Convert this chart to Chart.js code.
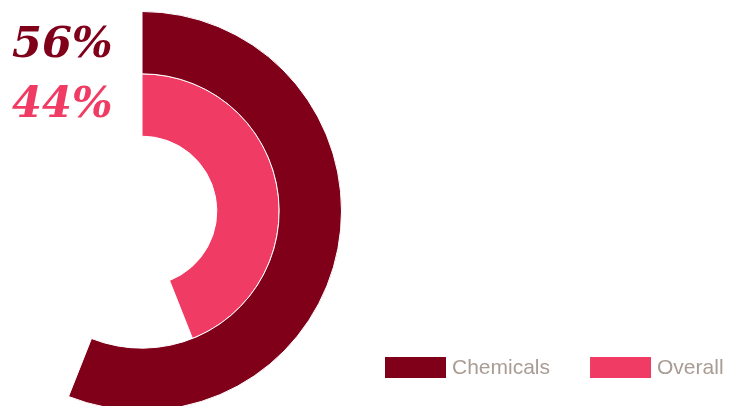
<!DOCTYPE html>
<html>
<head>
<meta charset="utf-8">
<script src="https://cdn.jsdelivr.net/npm/chart.js@4/dist/chart.umd.min.js"></script>
<style>
html, body { margin: 0; padding: 0; background: #fff; overflow: hidden; }
#wrap { position: relative; width: 729px; height: 406px; overflow: hidden; }
/* canvas shifted left so the ring can run off the page edge like the original */
#shareChart { position: absolute; left: -58px; top: 0; }
</style>
</head>
<body>
<div id="wrap"><canvas id="shareChart" width="787" height="416"></canvas></div>
<script>
// data
const labels = ['Chemicals', 'Overall'];
const shares = [56, 44];
const colors = ['#80001a', '#f03c64'];

const shiftX = 58; // canvas offset

// one ring per series, the rest of the ring left empty
const datasets = labels.map((lab, i) => ({
    label: lab,
    data: [shares[i], 100 - shares[i]],
    backgroundColor: [colors[i], 'rgba(0,0,0,0)'],
    borderColor: '#fff',
    borderWidth: [1, 0],
    clip: false
}));

// big numbers top left + legend bottom right
const overlay = {
    id: 'overlay',
    afterDraw(chart) {
        const ctx = chart.ctx;
        ctx.save();
        ctx.font = 'italic bold 43px "DejaVu Serif", serif';
        ctx.textBaseline = 'alphabetic';
        shares.forEach((v, i) => {
            ctx.fillStyle = colors[i];
            ctx.fillText(v + '%', shiftX + 12, 57 + i * 60);
        });

        ctx.font = '21px "Liberation Sans", Arial, sans-serif';
        ctx.textBaseline = 'middle';
        let x = shiftX + 385;
        labels.forEach((lab, i) => {
            ctx.fillStyle = colors[i];
            ctx.fillRect(x, 357, 61, 21);
            ctx.fillStyle = '#a89c94';
            ctx.fillText(lab, x + 67, 368);
            x += 67 + ctx.measureText(lab).width + 40;
        });
        ctx.restore();
    }
};

const ctx = document.getElementById('shareChart').getContext('2d');
const shareChart = new Chart(ctx, {
    type: 'doughnut',
    data: {
        labels: ['value', 'rest'],
        datasets: datasets
    },
    options: {
        responsive: false,
        animation: false,
        events: [],
        cutout: '37.5%',
        // chart area 400x400, centre lands at (142, 211) on the page
        layout: {
            padding: { left: 0, top: 11, right: 387, bottom: 5 }
        },
        plugins: {
            legend: { display: false },
            tooltip: { enabled: false }
        }
    },
    plugins: [overlay]
});
</script>
</body>
</html>
